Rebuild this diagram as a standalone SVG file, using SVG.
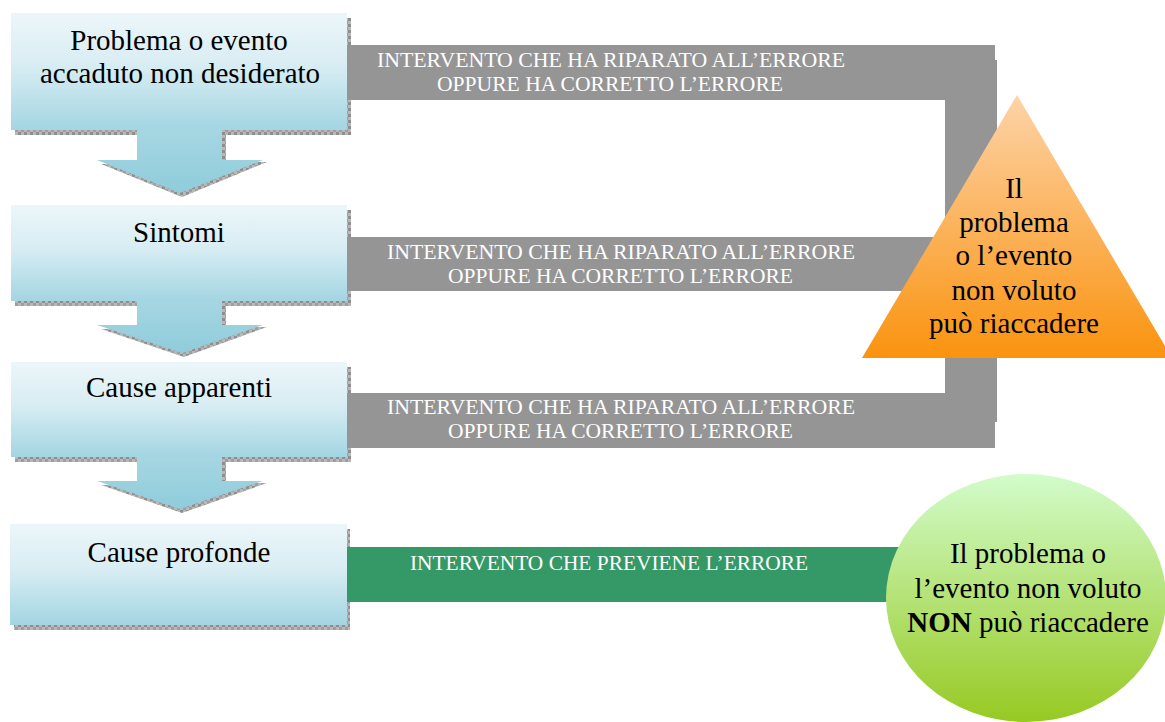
<svg xmlns="http://www.w3.org/2000/svg" width="1165" height="722" viewBox="0 0 1165 722">
<defs>
<linearGradient id="gBox" x1="0" y1="0" x2="0" y2="1">
<stop offset="0" stop-color="#ECF6FA"/>
<stop offset="0.45" stop-color="#D8EDF3"/>
<stop offset="1" stop-color="#A3D5E2"/>
</linearGradient>
<linearGradient id="gArrow" x1="0" y1="0" x2="0" y2="1">
<stop offset="0" stop-color="#A6D6E2"/>
<stop offset="1" stop-color="#8FCCDC"/>
</linearGradient>
<linearGradient id="gTri" x1="0" y1="0" x2="0" y2="1">
<stop offset="0" stop-color="#FDD3A8"/>
<stop offset="1" stop-color="#FA930F"/>
</linearGradient>
<linearGradient id="gEll" x1="0" y1="0" x2="0" y2="1">
<stop offset="0" stop-color="#D2FCCB"/>
<stop offset="1" stop-color="#97C922"/>
</linearGradient>
<pattern id="shd" width="6" height="6" patternUnits="userSpaceOnUse">
<rect width="6" height="6" fill="#B8B8B8"/>
<rect width="3" height="3" fill="#8E8E8E"/>
<rect x="3" y="3" width="3" height="3" fill="#9E9E9E"/>
</pattern>
<style>
.box{fill:url(#gBox)}
.shadow{fill:url(#shd)}
.arrow{fill:url(#gArrow)}
.bar{fill:#959595}
.green{fill:#349966}
.big{font-size:29px;fill:#000;text-anchor:middle}
.lbl{font-size:21px;fill:#fff}
</style>
</defs>
<rect width="1165" height="722" fill="#fff"/>
<g font-family="'Liberation Serif', 'Times New Roman', serif">
<g id="box1">
<rect class="shadow" x="15" y="18" width="336" height="117"/>
<rect class="box" x="11" y="13" width="336" height="117"/>
<text class="big" x="179" y="50">Problema o evento</text>
<text class="big" x="180" y="83">accaduto non desiderato</text>
</g>
<g id="box2">
<rect class="shadow" x="15" y="210" width="336" height="96"/>
<rect class="box" x="11" y="205" width="336" height="96"/>
<text class="big" x="179" y="242">Sintomi</text>
</g>
<g id="box3">
<rect class="shadow" x="15" y="367" width="336" height="95"/>
<rect class="box" x="11" y="362" width="336" height="95"/>
<text class="big" x="179" y="397">Cause apparenti</text>
</g>
<g id="box4">
<rect class="shadow" x="14" y="529" width="336" height="101"/>
<rect class="box" x="10" y="524" width="337" height="101"/>
<text class="big" x="179" y="562">Cause profonde</text>
</g>

<g id="connectors">
<path class="shadow" d="M222 130 H226 V162 H267 L182 197 L101 164 H137 V130 Z"/>
<path class="arrow" d="M137 130 H222 V160 H263 L180 193 L97 160 H137 Z"/>
<path class="shadow" d="M222 301 H226 V327 H267 L184 357 L101 329 H137 V301 Z"/>
<path class="arrow" d="M137 301 H222 V325 H263 L182 353 L97 325 H137 Z"/>
<path class="shadow" d="M222 457 H226 V483 H267 L182 513 L101 485 H137 V457 Z"/>
<path class="arrow" d="M137 457 H222 V481 H263 L180 509 L97 481 H137 Z"/>

<rect class="bar" x="347" y="45" width="648" height="55"/>
<rect class="bar" x="945" y="60" width="52" height="362"/>
<rect class="bar" x="347" y="393" width="648" height="55"/>
<rect class="bar" x="347" y="237" width="613" height="54"/>
<rect class="green" x="347" y="547" width="603" height="55"/>

<text class="lbl" x="377" y="67" textLength="468" lengthAdjust="spacingAndGlyphs">INTERVENTO CHE HA RIPARATO ALL’ERRORE</text>
<text class="lbl" x="437" y="91" textLength="346" lengthAdjust="spacingAndGlyphs">OPPURE HA CORRETTO L’ERRORE</text>
<text class="lbl" x="387" y="259" textLength="468" lengthAdjust="spacingAndGlyphs">INTERVENTO CHE HA RIPARATO ALL’ERRORE</text>
<text class="lbl" x="448" y="283" textLength="345" lengthAdjust="spacingAndGlyphs">OPPURE HA CORRETTO L’ERRORE</text>
<text class="lbl" x="387" y="414" textLength="468" lengthAdjust="spacingAndGlyphs">INTERVENTO CHE HA RIPARATO ALL’ERRORE</text>
<text class="lbl" x="448" y="438" textLength="345" lengthAdjust="spacingAndGlyphs">OPPURE HA CORRETTO L’ERRORE</text>
<text class="lbl" x="410" y="570" textLength="398" lengthAdjust="spacingAndGlyphs">INTERVENTO CHE PREVIENE L’ERRORE</text>
</g>

<g id="triangle">
<polygon points="1017,95 862,358 1172,358" fill="url(#gTri)"/>
<text class="big" x="1014" y="198">Il</text>
<text class="big" x="1014" y="232">problema</text>
<text class="big" x="1014" y="265">o l’evento</text>
<text class="big" x="1014" y="300">non voluto</text>
<text class="big" x="1014" y="333">può riaccadere</text>
</g>

<g id="ellipse">
<ellipse cx="1026" cy="598" rx="140" ry="124" fill="url(#gEll)"/>
<text class="big" x="1028" y="563">Il problema o</text>
<text class="big" x="1028" y="598">l’evento non voluto</text>
<text class="big" x="1028" y="632"><tspan font-weight="bold">NON</tspan> può riaccadere</text>
</g>
</g>
</svg>
